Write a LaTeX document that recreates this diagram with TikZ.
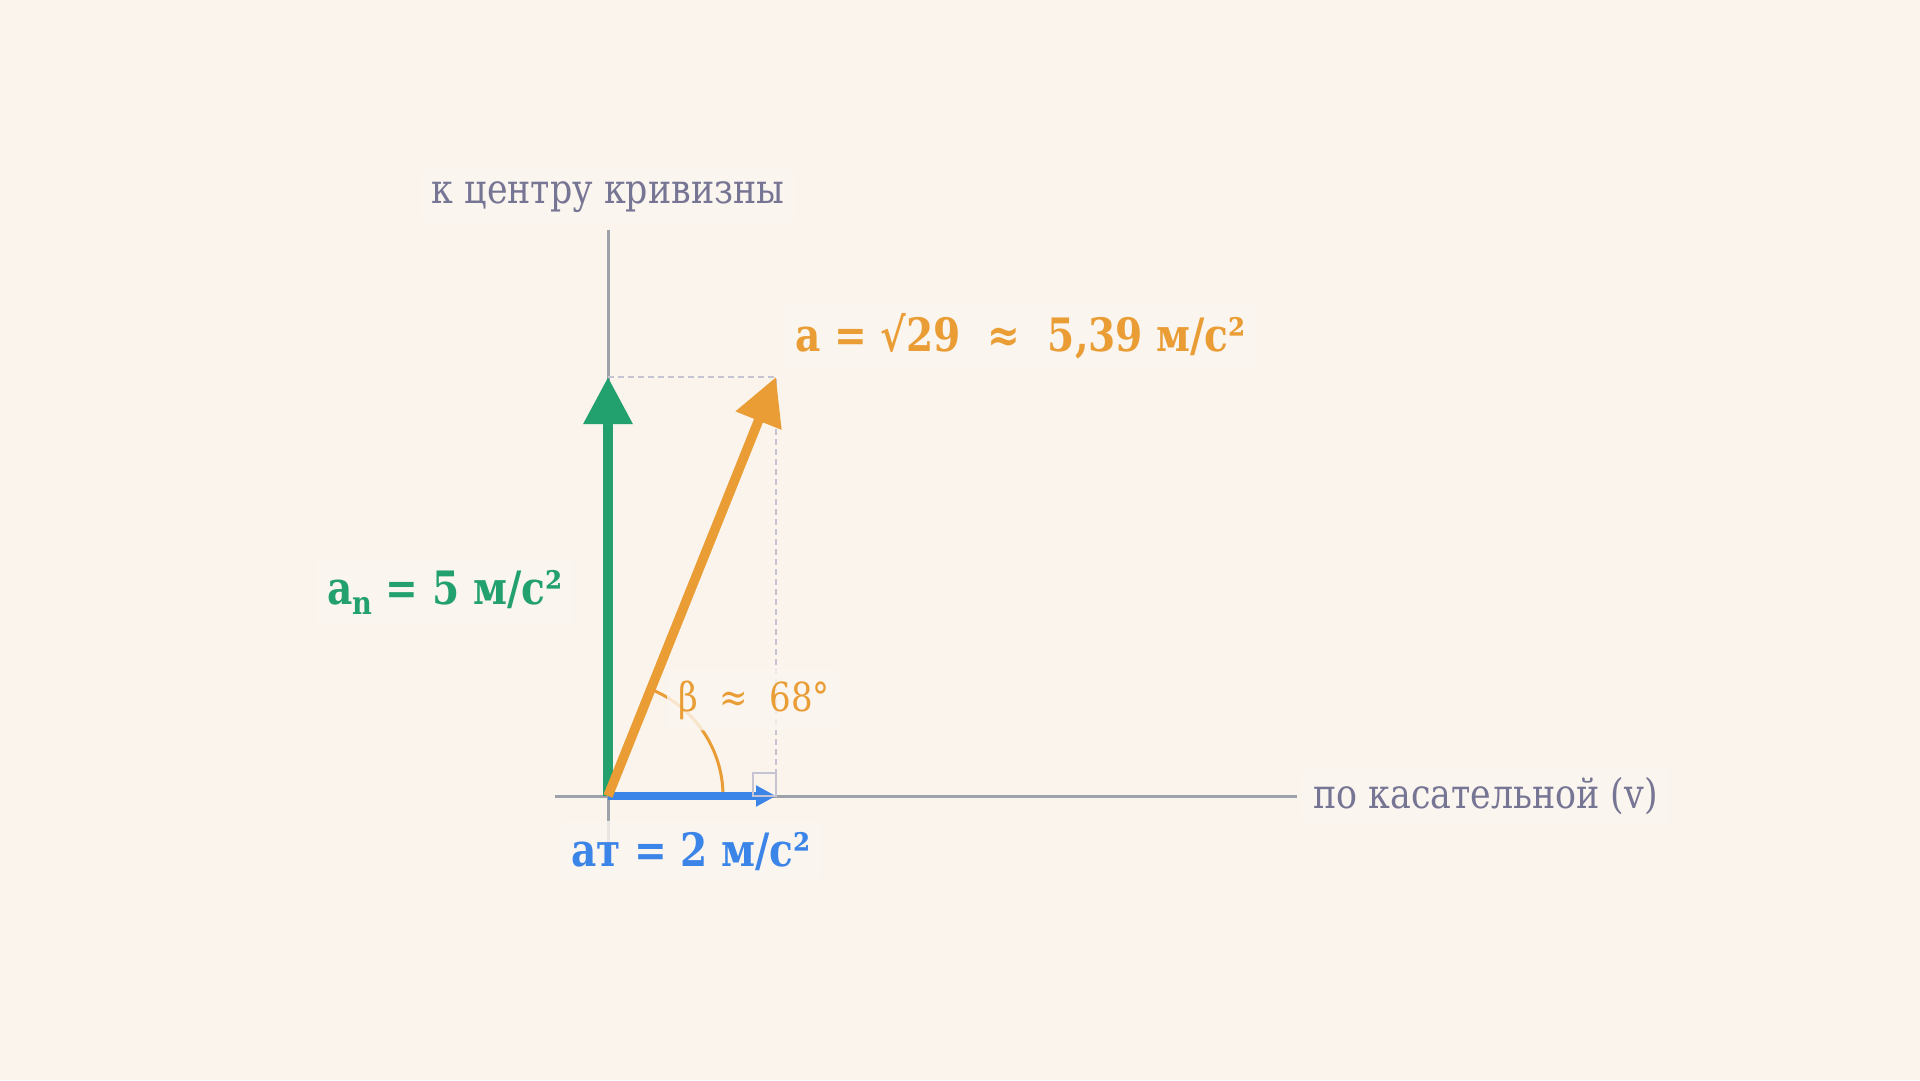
\documentclass[tikz,border=0pt]{standalone}
\usepackage{fontspec}
\setmainfont{DejaVu Serif}[FakeStretch=0.85]
\usetikzlibrary{arrows.meta}
\definecolor{bg}{HTML}{FAF4ED}
\definecolor{axisc}{HTML}{9CA1AA}
\definecolor{dashc}{HTML}{C6C3D2}
\definecolor{orng}{HTML}{E99D34}
\definecolor{grn}{HTML}{22A06E}
\definecolor{blu}{HTML}{3B84E8}
\definecolor{lbl}{HTML}{777594}
\begin{document}
\begin{tikzpicture}[x=1pt,y=-1pt,
  axisline/.style={draw=axisc,line width=3pt},
  guide/.style={draw=dashc,line width=2.5pt,dash pattern=on 6pt off 4pt},
  vec/.style={line width=9.5pt},
  bigtip/.style={-{Triangle[length=47pt,width=47pt]}},
  lab/.style={fill=bg!85!white,fill opacity=0.8,text opacity=1,rounded corners=6pt,inner sep=11pt},
  axlab/.style={lab,text=lbl,font=\fontsize{41}{46}\selectfont},
  vlab/.style={lab,font=\bfseries\fontsize{46}{52}\selectfont}]
\fill[bg] (0,0) rectangle (1920,1080);
\useasboundingbox (0,0) rectangle (1920,1080);
\coordinate (O) at (608,796);
\coordinate (T) at (776,796);
\coordinate (N) at (608,377);
\coordinate (A) at (776,377);
\coordinate (Q) at (776,773);
\coordinate (xL) at (555,796);
\coordinate (xR) at (1297,796);
\coordinate (yT) at (608,230);
\coordinate (yB) at (608,845);
% axes
\draw[axisline] (xL) -- (xR);
\draw[axisline] (yB) -- (yT);
% guides
\draw[guide] (N) -- (A) -- (Q);
% angle arc
\draw[orng,line width=3pt] (723,796) arc[start angle=0,end angle=-68.2,radius=115];
% vectors
\draw[grn,vec,bigtip] (O) -- (N);
\draw[blu,line width=8pt,-{Triangle[length=20pt,width=20pt]}] (O) -- (T);
\draw[orng,vec,bigtip] (O) -- (A);
% right angle mark
\draw[dashc,line width=2.5pt] (753,773) rectangle (776,796);
% labels
\node[axlab,anchor=base] (kc) at (608,203) {к центру кривизны};
\node[axlab,anchor=base west] (pk) at (1302,808) {по касательной (v)};
\node[vlab,text=orng,anchor=base west] (la) at (784,351) {a = √29~~≈~~5,39 м/с²};
\node[vlab,text=grn,anchor=base west] (ln) at (316,604) {a\raisebox{-.22em}{\fontsize{32}{32}\selectfont n} = 5 м/с²};
\node[vlab,text=blu,anchor=base west] (lt) at (560,866) {aт = 2 м/с²};
\node[lab,text=orng,font=\fontsize{40}{46}\selectfont,anchor=base west] (lb) at (667,711) {β~~≈~~68°};
\end{tikzpicture}
\end{document}
